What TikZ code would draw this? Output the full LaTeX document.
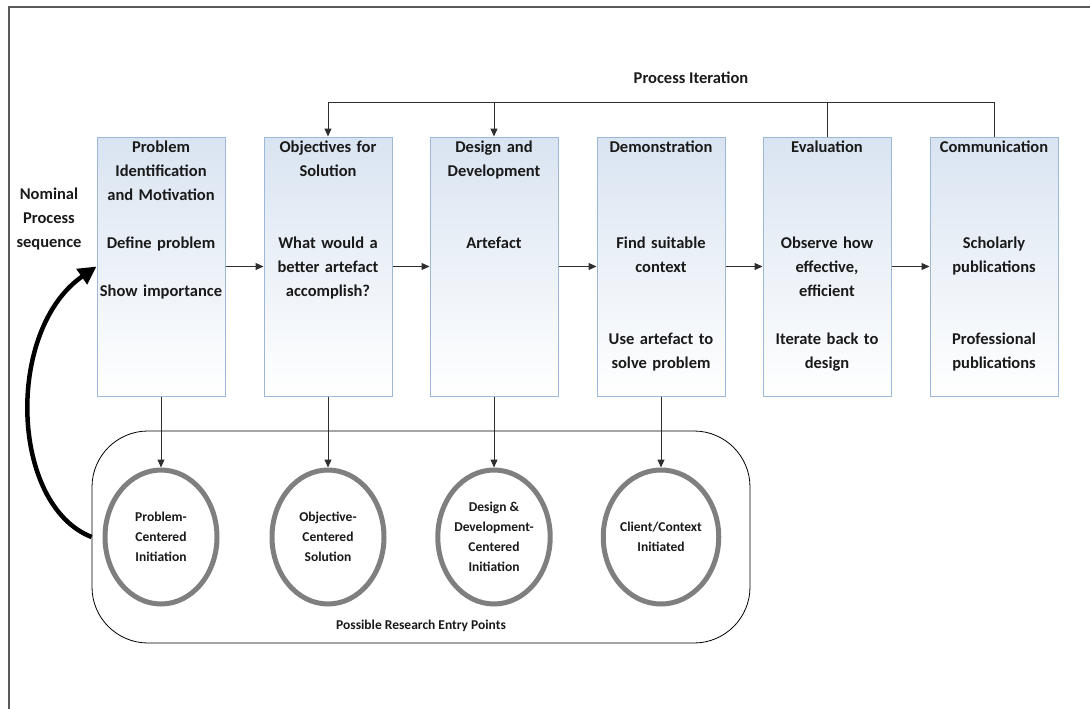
\documentclass[tikz,border=0pt]{standalone}
\usepackage{fontspec}
\setmainfont{Carlito}
\usetikzlibrary{arrows.meta,shapes.geometric}

\definecolor{framegray}{HTML}{5A5A5A}
\definecolor{boxedge}{HTML}{9DB8D6}
\definecolor{boxtop}{HTML}{D9E4F1}
\definecolor{ringgray}{HTML}{7F7F7F}
\definecolor{linkgray}{HTML}{2E2E2E}
\definecolor{textdark}{HTML}{1A1A1A}

\tikzset{
  stage/.style={draw=boxedge, line width=1pt, top color=boxtop, bottom color=white,
    minimum width=128pt, minimum height=259pt, inner sep=0pt},
  stagetext/.style={text width=128pt, align=center, anchor=base, inner sep=0pt,
    text=textdark, font=\fontsize{16.5}{24}\selectfont\bfseries},
  entrypt/.style={ellipse, draw=ringgray, line width=5pt, fill=white,
    minimum width=112pt, minimum height=134pt, inner sep=0pt, align=center,
    text=textdark, font=\fontsize{13.5}{20}\selectfont\bfseries},
  caption/.style={align=center, text=textdark, inner sep=0pt,
    font=\fontsize{16.5}{24}\selectfont\bfseries},
  link/.style={draw=linkgray, line width=1pt},
  flow/.style={link, -{Triangle[length=8pt,width=7pt]}},
}

\begin{document}
\begin{tikzpicture}[x=1pt, y=-1pt]
\useasboundingbox (0,0) rectangle (1090,709);

% frame
\draw[framegray, line width=2pt] (9,709) -- (9,7) -- (1090,7);

% the six activity boxes
\foreach \n/\x in {1/161, 2/328, 3/494, 4/661, 5/827, 6/994}
  \node[stage] (b\n) at (\x,266.5) {};

\node[stagetext] (t1) at (161,152) {Problem\\Identification\\and Motivation\\[24pt]Define problem\\[24pt]Show importance};
\node[stagetext] (t2) at (328,152) {Objectives for\\Solution\\[48pt]What would a\\better artefact\\accomplish?};
\node[stagetext] (t3) at (494,152) {Design and\\Development\\[48pt]Artefact};
\node[stagetext] (t4) at (661,152) {Demonstration\\[72pt]Find suitable\\context\\[48pt]Use artefact to\\solve problem};
\node[stagetext] (t5) at (827,152) {Evaluation\\[72pt]Observe how\\effective,\\efficient\\[24pt]Iterate back to\\design};
\node[stagetext] (t6) at (994,152) {Communication\\[72pt]Scholarly\\publications\\[48pt]Professional\\publications};

% nominal sequence
\foreach \a/\b in {1/2, 2/3, 3/4, 4/5, 5/6}
  \draw[flow] (b\a.east) -- (b\b.west);

% process iteration loop
\coordinate (loop) at (0,102);
\draw[link] (b6.north) -- (b6.north |- loop) -- (b2.north |- loop);
\draw[link] (b5.north) -- (b5.north |- loop);
\draw[flow] (b2.north |- loop) -- (b2.north);
\draw[flow] (b3.north |- loop) -- (b3.north);
\node[caption] (iter) at (691,78) {Process Iteration};

% entry points container
\node[draw=black, line width=0.8pt, rounded corners=56pt,
  minimum width=658pt, minimum height=212pt] (entry) at (421,537) {};
\node[caption, font=\fontsize{13.5}{16}\selectfont\bfseries] (entrylbl) at (421,626) {Possible Research Entry Points};

\node[entrypt] (c1) at (161,537) {Problem-\\Centered\\Initiation};
\node[entrypt] (c2) at (328,537) {Objective-\\Centered\\Solution};
\node[entrypt] (c3) at (494,537) {Design \&\\Development-\\Centered\\Initiation};
\node[entrypt] (c4) at (661,537) {Client/Context\\Initiated};

\foreach \n in {1,...,4}
  \draw[flow] (b\n.south) -- (c\n.north);

% nominal process sequence arrow
\node[caption] (nominal) at (49,219) {Nominal\\Process\\sequence};
\draw[black, line width=4.5pt, -{Triangle[length=18pt,width=18pt]}]
  (entry.west) .. controls (10,505) and (5,330) .. (b1.west);
\end{tikzpicture}
\end{document}
